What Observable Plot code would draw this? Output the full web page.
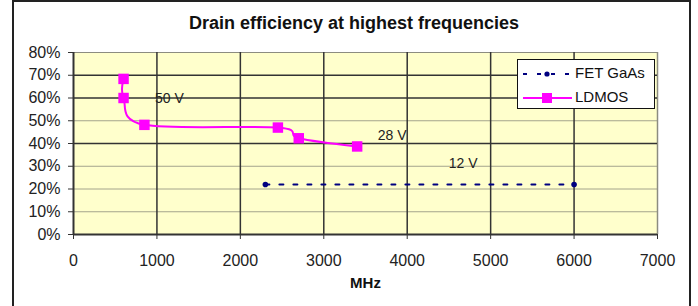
<!DOCTYPE html>
<html>
<head>
<meta charset="utf-8">
<script src="https://cdn.jsdelivr.net/npm/d3@7"></script>
<script src="https://cdn.jsdelivr.net/npm/@observablehq/plot@0.6"></script>
<style>
  html, body { margin: 0; padding: 0; background: #fff; }
  #wrap { position: relative; width: 698px; height: 306px; overflow: hidden; font-family: "Liberation Sans", Arial, sans-serif; }
  #border { position: absolute; left: 12px; top: 0px; width: 679px; height: 310px; border: 2px solid #222; box-sizing: border-box; }
  #title { position: absolute; left: 0; width: 708px; top: 13px; text-align: center; font-weight: bold; font-size: 18px; color: #111; }
  #chart { position: absolute; left: 0; top: 0; }
  #legend { position: absolute; left: 517px; top: 59px; width: 138px; height: 50px; background: #fff; border: 1.5px solid #111; box-sizing: border-box; }
  .row { position: absolute; left: 0; height: 20px; font-size: 15px; color: #111; }
  .row svg { position: absolute; left: 4px; top: 0; }
  .row span { position: absolute; left: 57px; top: 1px; white-space: nowrap; }
</style>
</head>
<body>
<div id="wrap">
  <div id="chart"></div>
  <div id="border"></div>
  <div id="title"></div>
  <div id="legend"></div>
</div>
<script>
const titleText = "Drain efficiency at highest frequencies";
const xLabel = "MHz";
const xTicks = [0, 1000, 2000, 3000, 4000, 5000, 6000, 7000];
const yTicks = [0, 0.1, 0.2, 0.3, 0.4, 0.5, 0.6, 0.7, 0.8];
const darkGridY = [0.4, 0.6, 0.7];
const lightGridY = [0.1, 0.2, 0.3, 0.5];

const seriesNames = ["FET GaAs", "LDMOS"];
const fetX = [2300, 6000];
const fetY = [0.22, 0.22];
const ldmosX = [600, 600, 850, 2450, 2700, 3400];
const ldmosY = [0.684, 0.600, 0.482, 0.470, 0.423, 0.387];

const noteText = ["50 V", "28 V", "12 V"];
const noteX = [1150, 3820, 4670];
const noteY = [0.598, 0.435, 0.311];

const navy = "#000080";
const magenta = "#ff00ff";

const fet = fetX.map((x, i) => ({x, y: fetY[i]}));
const ldmos = ldmosX.map((x, i) => ({x, y: ldmosY[i]}));
const notes = noteText.map((t, i) => ({t, x: noteX[i], y: noteY[i]}));

const chart = Plot.plot({
  width: 698,
  height: 306,
  marginLeft: 73,
  marginRight: 41,
  marginTop: 52,
  marginBottom: 72,
  style: {fontFamily: "'Liberation Sans', Arial, sans-serif", fontSize: "16px", color: "#222", background: "transparent"},
  x: {domain: [0, 7000]},
  y: {domain: [0, 0.8]},
  marks: [
    Plot.frame({fill: "#ffffcc", stroke: null}),
    Plot.ruleY(lightGridY, {y: d => d, stroke: "#a4a48c", strokeWidth: 1}),
    Plot.ruleY([0.8], {y: d => d, stroke: "#8c8c80", strokeWidth: 1}),
    Plot.ruleX([7000], {x: d => d, stroke: "#8c8c80", strokeWidth: 1.5}),
    Plot.ruleY(darkGridY, {y: d => d, stroke: "#333", strokeWidth: 1.5}),
    Plot.ruleX(xTicks.slice(1, -1), {x: d => d, stroke: "#333", strokeWidth: 1.5}),
    Plot.ruleY([0], {y: d => d, stroke: "#333", strokeWidth: 2}),
    Plot.ruleX([0], {x: d => d, stroke: "#333", strokeWidth: 2}),
    Plot.axisY({ticks: yTicks, tickFormat: d3.format(".0%"), tickSize: 5, tickPadding: 8, stroke: "#333", fontSize: 16, label: null}),
    Plot.axisX({ticks: xTicks, tickFormat: d => String(d), tickSize: 5, tickPadding: 15, stroke: "#333", fontSize: 16, label: null}),
    Plot.text([xLabel], {text: d => d, frameAnchor: "bottom", dy: 53, fontWeight: "bold", fontSize: 15, fill: "#111"}),
    Plot.line(fet, {x: "x", y: "y", stroke: navy, strokeWidth: 2, strokeDasharray: "4,10"}),
    Plot.dot(fet, {x: "x", y: "y", r: 2.8, fill: navy, stroke: null}),
    Plot.line(ldmos, {x: "x", y: "y", stroke: magenta, strokeWidth: 2, curve: "cardinal", tension: 0}),
    Plot.dot(ldmos, {x: "x", y: "y", symbol: "square", r: 5.9, fill: magenta, stroke: null}),
    Plot.text(notes, {x: "x", y: "y", text: "t", fontSize: 14, fill: "#222"})
  ]
});
document.getElementById("chart").appendChild(chart);
document.getElementById("title").textContent = titleText;

const legend = document.getElementById("legend");
const rowsSvg = [
  `<svg width="52" height="20"><line x1="1" y1="11" x2="50" y2="11" stroke="${navy}" stroke-width="2" stroke-dasharray="4,10"/><circle cx="25" cy="11" r="2.6" fill="${navy}"/></svg>`,
  `<svg width="52" height="20"><line x1="1" y1="11" x2="50" y2="11" stroke="${magenta}" stroke-width="2"/><rect x="20" y="6" width="10" height="10" fill="${magenta}"/></svg>`
];
seriesNames.forEach((name, i) => {
  const row = document.createElement("div");
  row.className = "row";
  row.style.top = (3 + i * 24) + "px";
  row.style.width = "130px";
  row.innerHTML = rowsSvg[i] + `<span>${name}</span>`;
  legend.appendChild(row);
});
</script>
</body>
</html>
